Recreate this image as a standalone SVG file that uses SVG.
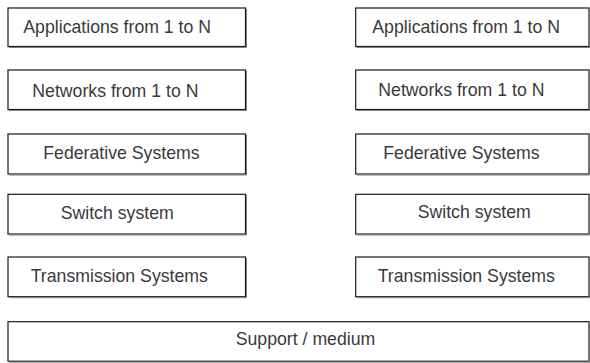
<svg xmlns="http://www.w3.org/2000/svg" width="590" height="363" viewBox="0 0 590 363">
<style>
.box{fill:#fff;stroke:#1a1a1a;stroke-width:1.2}
.sh{fill:none;stroke:#808080;stroke-width:1}
.t{font-family:"Liberation Sans",Arial,sans-serif;font-size:17.7px;fill:#3a3a3a}
</style>
<rect width="590" height="363" fill="#fff"/>
<g id="app-left"><rect class="box" x="8" y="8" width="237.5" height="38.5"/><path class="sh" d="M246.5 9V47.5H9"/><text class="t" x="23.3" y="33.3">Applications from 1 to N</text></g>
<g id="net-left"><rect class="box" x="8" y="70" width="237.5" height="39.5"/><path class="sh" d="M246.5 71V110.5H9"/><text class="t" x="32.3" y="97.3">Networks from 1 to N</text></g>
<g id="fed-left"><rect class="box" x="8" y="134" width="237.5" height="40"/><path class="sh" d="M246.5 135V175H9"/><text class="t" x="43.3" y="159.3">Federative Systems</text></g>
<g id="sw-left"><rect class="box" x="8" y="194.3" width="237.5" height="39.7"/><path class="sh" d="M246.5 195V235H9"/><text class="t" x="60.7" y="219.3">Switch system</text></g>
<g id="tr-left"><rect class="box" x="8" y="257" width="237.5" height="39.7"/><path class="sh" d="M246.5 258V297.7H9"/><text class="t" x="30.7" y="281.7">Transmission Systems</text></g>
<g id="app-right"><rect class="box" x="355.7" y="8" width="233.3" height="38.5"/><path class="sh" d="M356.7 47.5H590"/><text class="t" x="372.3" y="33.3">Applications from 1 to N</text></g>
<g id="net-right"><rect class="box" x="355.7" y="70" width="233.3" height="39.5"/><path class="sh" d="M356.7 110.5H590"/><text class="t" x="378.3" y="95.5">Networks from 1 to N</text></g>
<g id="fed-right"><rect class="box" x="355.7" y="134" width="233.3" height="40"/><path class="sh" d="M356.7 175H590"/><text class="t" x="383.3" y="159.3">Federative Systems</text></g>
<g id="sw-right"><rect class="box" x="355.7" y="194.3" width="233.3" height="39.7"/><path class="sh" d="M356.7 235H590"/><text class="t" x="417.7" y="217.5">Switch system</text></g>
<g id="tr-right"><rect class="box" x="355.7" y="257" width="233.3" height="39.7"/><path class="sh" d="M356.7 297.7H590"/><text class="t" x="377.7" y="281.7">Transmission Systems</text></g>
<g id="support"><rect class="box" x="8" y="321.7" width="581" height="39.5"/><path class="sh" d="M9 362.2H590"/><text class="t" x="235.7" y="344.5">Support / medium</text></g>
<g id="connectors"></g>
</svg>
